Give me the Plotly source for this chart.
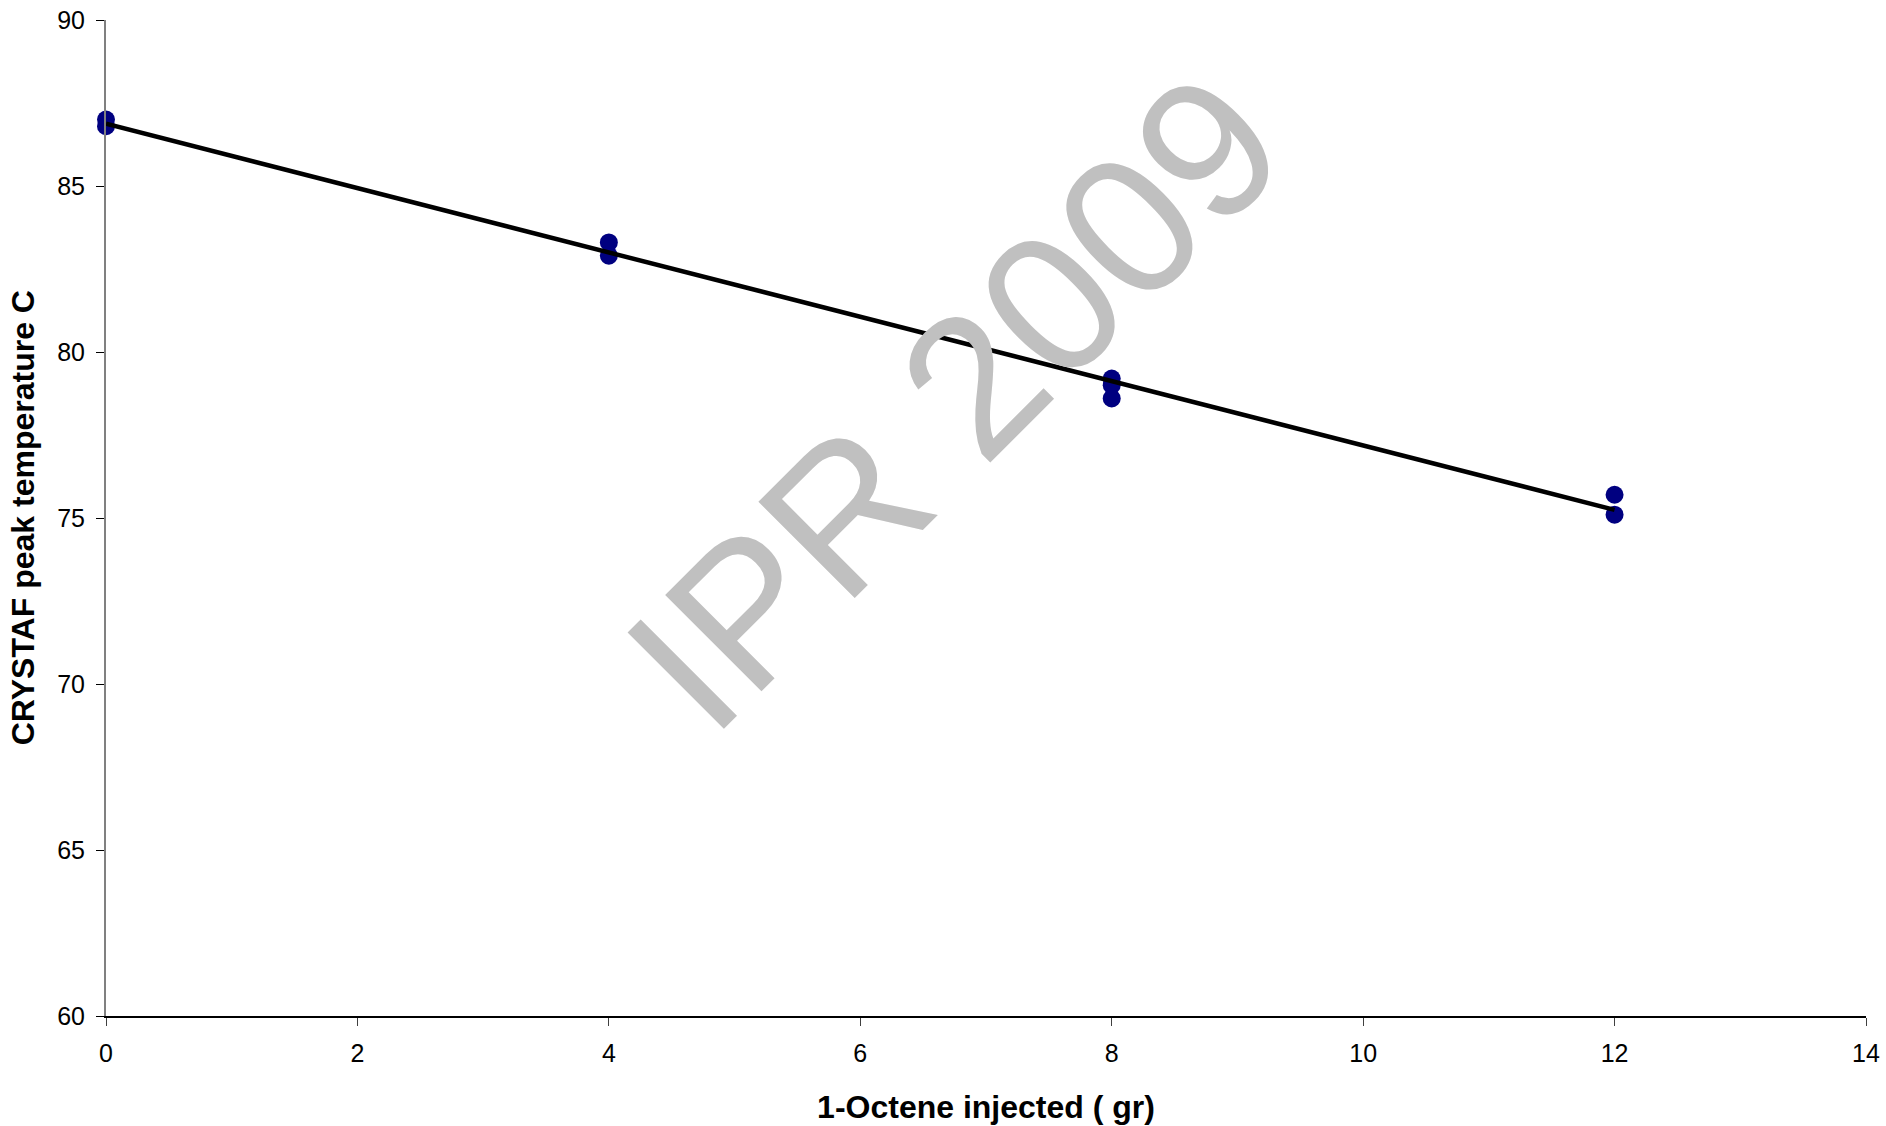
import numpy as np
import plotly.graph_objects as go

# Data
octene_gr = [0, 0, 4, 4, 8, 8, 8, 12, 12]
crystaf_peak_C = [87.0, 86.8, 83.3, 82.9, 79.2, 79.0, 78.6, 75.7, 75.1]

x_ticks = [0, 2, 4, 6, 8, 10, 12, 14]
y_ticks = [60, 65, 70, 75, 80, 85, 90]

# Linear trendline fitted on the data
slope, intercept = np.polyfit(octene_gr, crystaf_peak_C, 1)
trend_x = [min(octene_gr), max(octene_gr)]
trend_y = [intercept + slope * v for v in trend_x]

fig = go.Figure()
fig.add_trace(go.Scatter(
    x=octene_gr, y=crystaf_peak_C, mode="markers",
    marker=dict(color="#000080", size=18, line=dict(width=0)),
    showlegend=False, cliponaxis=False,
))
fig.add_trace(go.Scatter(
    x=trend_x, y=trend_y, mode="lines",
    line=dict(color="black", width=4.5),
    showlegend=False, cliponaxis=False,
))

fig.add_annotation(
    text="IPR 2009", x=6.75, y=78.5, xref="x", yref="y",
    showarrow=False, textangle=-45,
    font=dict(family="Liberation Sans, Arial", size=198, color="#c0c0c0"),
    xanchor="center", yanchor="middle",
)

# Y axis title placed as rotated text left of the tick labels
fig.add_annotation(
    text="<b>CRYSTAF peak temperature C</b>", x=-0.047, y=0.5,
    xref="paper", yref="paper", showarrow=False, textangle=-90,
    font=dict(size=32), xanchor="center", yanchor="middle",
)

font = "Liberation Sans, Arial, sans-serif"
fig.update_layout(
    width=1886, height=1126,
    margin=dict(l=106, r=20, t=20, b=110),
    paper_bgcolor="white", plot_bgcolor="white",
    font=dict(family=font, color="black"),
    xaxis=dict(
        range=[0, 14], tickvals=x_ticks, ticks="outside", ticklen=8,
        tickcolor="#404040", showline=True, linecolor="black", linewidth=2,
        showgrid=False, zeroline=False, tickfont=dict(size=25),
        ticklabelstandoff=6, automargin=False,
        title=dict(text="<b>1-Octene injected ( gr)</b>", font=dict(size=32), standoff=30),
    ),
    yaxis=dict(
        range=[60, 90], tickvals=y_ticks, ticks="outside", ticklen=8,
        tickcolor="black", showline=True, linecolor="#808080", linewidth=2,
        showgrid=False, zeroline=False, tickfont=dict(size=25),
        ticklabelstandoff=6, automargin=False,
    ),
)

fig.write_html("out.html")
